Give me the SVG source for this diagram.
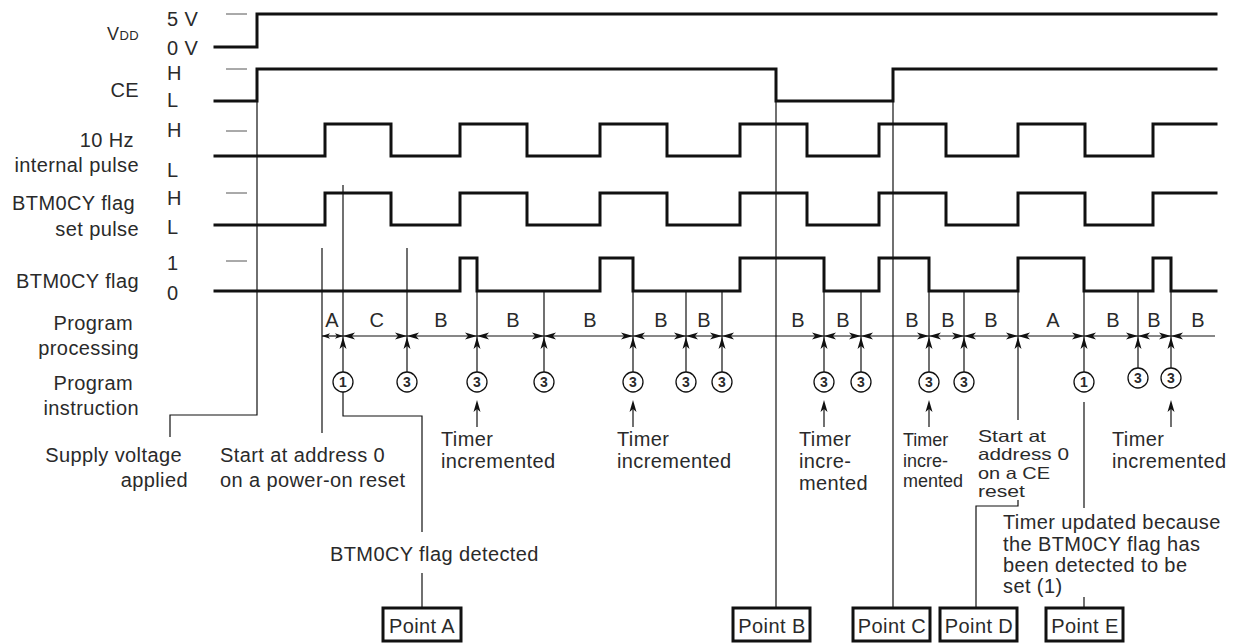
<svg xmlns="http://www.w3.org/2000/svg" width="1245" height="644" viewBox="0 0 1245 644">
<style>
text{font-family:"Liberation Sans",Arial,sans-serif;font-size:20px;letter-spacing:0.4px;fill:#2a2a2a}
.e{text-anchor:end}
.m{text-anchor:middle}
.wave{fill:none;stroke:#111;stroke-width:3;stroke-linejoin:miter;stroke-linecap:square}
.thin{fill:none;stroke:#111;stroke-width:1.2}
.tick{stroke:#555;stroke-width:1}
.dim{stroke:#111;stroke-width:1.2;fill:none}
.circ{fill:#fff;stroke:#111;stroke-width:1.3}
.cn{font-size:14px;font-weight:bold;letter-spacing:0;text-anchor:middle}
.box{fill:#fff;stroke:#111;stroke-width:3}
.sm{font-size:18px;letter-spacing:0}
.tight{font-size:16.5px;letter-spacing:0}
</style>
<defs>
<marker id="ah" viewBox="0 0 12 8" refX="12" refY="4" markerWidth="12" markerHeight="8" markerUnits="userSpaceOnUse" orient="auto-start-reverse">
<path d="M0,0.5 L12,4 L0,7.5 L3,4 Z" fill="#111"/>
</marker>
<marker id="ahs" viewBox="0 0 8 6" refX="8" refY="3" markerWidth="8" markerHeight="6" markerUnits="userSpaceOnUse" orient="auto-start-reverse">
<path d="M0,0.3 L8,3 L0,5.7 L2,3 Z" fill="#111"/>
</marker>
<path id="up" d="M0,0 L3.5,12 L0,9 L-3.5,12 Z" fill="#111"/>
</defs>

<g id="signal-labels">
<text x="139" y="40" class="e"><tspan font-size="18">V</tspan><tspan font-size="13">DD</tspan></text>
<text x="139" y="97" class="e">CE</text>
<text x="134" y="147" class="e">10 Hz</text>
<text x="139" y="172" class="e">internal pulse</text>
<text x="135" y="210" class="e">BTM0CY flag</text>
<text x="139" y="236" class="e">set pulse</text>
<text x="139" y="288" class="e">BTM0CY flag</text>
<text x="133" y="330" class="e">Program</text>
<text x="139" y="355" class="e">processing</text>
<text x="133" y="390" class="e">Program</text>
<text x="139" y="415" class="e">instruction</text>
</g>

<g id="level-labels">
<text x="167" y="26">5 V</text>
<text x="167" y="55">0 V</text>
<text x="167" y="80">H</text>
<text x="167" y="107">L</text>
<text x="167" y="137">H</text>
<text x="167" y="177">L</text>
<text x="167" y="205">H</text>
<text x="167" y="234">L</text>
<text x="167" y="270">1</text>
<text x="167" y="300">0</text>
<line class="tick" x1="226" y1="14" x2="247" y2="14"/>
<line class="tick" x1="226" y1="69" x2="247" y2="69"/>
<line class="tick" x1="226" y1="131" x2="247" y2="131"/>
<line class="tick" x1="226" y1="193" x2="247" y2="193"/>
<line class="tick" x1="226" y1="261" x2="247" y2="261"/>
</g>

<g id="waveforms">
<path id="vdd" class="wave" d="M215,47 H257 V14 H1216"/>
<path id="ce" class="wave" d="M215,101 H257 V69 H776 V101 H893 V69 H1216"/>
<path id="pulse10hz" class="wave" d="M215,156 H325 V124 H391 V156 H460 V124 H527 V156 H600 V124 H667 V156 H740 V124 H807 V156 H879 V124 H946 V156 H1018 V124 H1085 V156 H1153 V124 H1216"/>
<path id="setpulse" class="wave" d="M215,225 H325 V193 H391 V225 H460 V193 H527 V225 H600 V193 H667 V225 H740 V193 H807 V225 H879 V193 H946 V225 H1018 V193 H1085 V225 H1153 V193 H1216"/>
<path id="flag" class="wave" d="M215,291 H460 V258 H477 V291 H600 V258 H633 V291 H740 V258 H824 V291 H879 V258 H929 V291 H1018 V258 H1084 V291 H1153 V258 H1171 V291 H1216"/>
</g>

<g id="connectors">
<path class="thin" d="M257,101 V415 H170 V437"/>
<path class="thin" d="M322,248 V433"/>
<path class="thin" d="M343,185 V372"/>
<path class="thin" d="M343,392 V416 H422 V532"/>
<path class="thin" d="M422,573 V608"/>
<path class="thin" d="M407,248 V372"/>
<path class="thin" d="M477,291 V372"/>
<path class="thin" d="M544,291 V372"/>
<path class="thin" d="M633,291 V372"/>
<path class="thin" d="M686,291 V372"/>
<path class="thin" d="M722,291 V372"/>
<path class="thin" d="M776,101 V608"/>
<path class="thin" d="M824,291 V372"/>
<path class="thin" d="M861,291 V372"/>
<path class="thin" d="M893,101 V608"/>
<path class="thin" d="M929,291 V372"/>
<path class="thin" d="M964,291 V372"/>
<path class="thin" d="M1018,291 V420"/>
<path class="thin" d="M1018,500 V506 H976 V608"/>
<path class="thin" d="M1084,291 V372"/>
<path class="thin" d="M1084,402 V508"/>
<path class="thin" d="M1084,597 V608"/>
<path class="thin" d="M1138,291 V368"/>
<path class="thin" d="M1171,291 V368"/>
<path class="thin" d="M477,427 V408"/>
<path class="thin" d="M633,427 V408"/>
<path class="thin" d="M824,427 V408"/>
<path class="thin" d="M929,427 V408"/>
<path class="thin" d="M1171,427 V408"/>
<use href="#up" x="477" y="400"/>
<use href="#up" x="633" y="400"/>
<use href="#up" x="824" y="400"/>
<use href="#up" x="929" y="400"/>
<use href="#up" x="1171" y="400"/>
<use href="#up" x="343" y="337"/>
<use href="#up" x="407" y="337"/>
<use href="#up" x="477" y="337"/>
<use href="#up" x="544" y="337"/>
<use href="#up" x="633" y="337"/>
<use href="#up" x="686" y="337"/>
<use href="#up" x="722" y="337"/>
<use href="#up" x="824" y="337"/>
<use href="#up" x="861" y="337"/>
<use href="#up" x="929" y="337"/>
<use href="#up" x="964" y="337"/>
<use href="#up" x="1018" y="337"/>
<use href="#up" x="1084" y="337"/>
<use href="#up" x="1138" y="337"/>
<use href="#up" x="1171" y="337"/>
<line class="dim" x1="322" y1="336" x2="343" y2="336" marker-start="url(#ahs)" marker-end="url(#ahs)"/>
<line class="dim" x1="343" y1="336" x2="407" y2="336" marker-start="url(#ah)" marker-end="url(#ah)"/>
<line class="dim" x1="407" y1="336" x2="477" y2="336" marker-start="url(#ah)" marker-end="url(#ah)"/>
<line class="dim" x1="477" y1="336" x2="544" y2="336" marker-start="url(#ah)" marker-end="url(#ah)"/>
<line class="dim" x1="544" y1="336" x2="633" y2="336" marker-start="url(#ah)" marker-end="url(#ah)"/>
<line class="dim" x1="633" y1="336" x2="686" y2="336" marker-start="url(#ah)" marker-end="url(#ah)"/>
<line class="dim" x1="686" y1="336" x2="722" y2="336" marker-start="url(#ah)" marker-end="url(#ah)"/>
<line class="dim" x1="722" y1="336" x2="824" y2="336" marker-start="url(#ah)" marker-end="url(#ah)"/>
<line class="dim" x1="824" y1="336" x2="861" y2="336" marker-start="url(#ah)" marker-end="url(#ah)"/>
<line class="dim" x1="861" y1="336" x2="929" y2="336" marker-start="url(#ah)" marker-end="url(#ah)"/>
<line class="dim" x1="929" y1="336" x2="964" y2="336" marker-start="url(#ah)" marker-end="url(#ah)"/>
<line class="dim" x1="964" y1="336" x2="1018" y2="336" marker-start="url(#ah)" marker-end="url(#ah)"/>
<line class="dim" x1="1018" y1="336" x2="1084" y2="336" marker-start="url(#ah)" marker-end="url(#ah)"/>
<line class="dim" x1="1084" y1="336" x2="1138" y2="336" marker-start="url(#ah)" marker-end="url(#ah)"/>
<line class="dim" x1="1138" y1="336" x2="1171" y2="336" marker-start="url(#ah)" marker-end="url(#ah)"/>
<line class="dim" x1="1171" y1="336" x2="1215" y2="336" marker-start="url(#ah)"/>
</g>

<g id="processing-labels">
<text x="332" y="327" class="m">A</text>
<text x="377" y="327" class="m">C</text>
<text x="441" y="327" class="m">B</text>
<text x="513" y="327" class="m">B</text>
<text x="590" y="327" class="m">B</text>
<text x="661" y="327" class="m">B</text>
<text x="704" y="327" class="m">B</text>
<text x="798" y="327" class="m">B</text>
<text x="843" y="327" class="m">B</text>
<text x="912" y="327" class="m">B</text>
<text x="948" y="327" class="m">B</text>
<text x="991" y="327" class="m">B</text>
<text x="1053" y="327" class="m">A</text>
<text x="1113" y="327" class="m">B</text>
<text x="1154" y="327" class="m">B</text>
<text x="1198" y="327" class="m">B</text>
</g>

<g id="instructions">
<g id="i1"><circle class="circ" cx="343" cy="382" r="10"/><text class="cn" x="343" y="387">1</text></g>
<g id="i2"><circle class="circ" cx="407" cy="382" r="10"/><text class="cn" x="407" y="387">3</text></g>
<g id="i3"><circle class="circ" cx="477" cy="382" r="10"/><text class="cn" x="477" y="387">3</text></g>
<g id="i4"><circle class="circ" cx="544" cy="382" r="10"/><text class="cn" x="544" y="387">3</text></g>
<g id="i5"><circle class="circ" cx="633" cy="382" r="10"/><text class="cn" x="633" y="387">3</text></g>
<g id="i6"><circle class="circ" cx="686" cy="382" r="10"/><text class="cn" x="686" y="387">3</text></g>
<g id="i7"><circle class="circ" cx="722" cy="382" r="10"/><text class="cn" x="722" y="387">3</text></g>
<g id="i8"><circle class="circ" cx="824" cy="382" r="10"/><text class="cn" x="824" y="387">3</text></g>
<g id="i9"><circle class="circ" cx="861" cy="382" r="10"/><text class="cn" x="861" y="387">3</text></g>
<g id="i10"><circle class="circ" cx="929" cy="382" r="10"/><text class="cn" x="929" y="387">3</text></g>
<g id="i11"><circle class="circ" cx="964" cy="382" r="10"/><text class="cn" x="964" y="387">3</text></g>
<g id="i12"><circle class="circ" cx="1084" cy="382" r="10"/><text class="cn" x="1084" y="387">1</text></g>
<g id="i13"><circle class="circ" cx="1138" cy="378" r="10"/><text class="cn" x="1138" y="383">3</text></g>
<g id="i14"><circle class="circ" cx="1171" cy="378" r="10"/><text class="cn" x="1171" y="383">3</text></g>
</g>

<g id="annotations">
<text x="182" y="462" class="e">Supply voltage</text>
<text x="188" y="487" class="e">applied</text>
<text x="220" y="462">Start at address 0</text>
<text x="220" y="487">on a power-on reset</text>
<text x="330" y="561">BTM0CY flag detected</text>
<text x="441" y="446">Timer</text>
<text x="441" y="468">incremented</text>
<text x="617" y="446">Timer</text>
<text x="617" y="468">incremented</text>
<text x="799" y="446">Timer</text>
<text x="799" y="468">incre-</text>
<text x="799" y="490">mented</text>
<text x="903" y="446" class="sm">Timer</text>
<text x="903" y="467" class="sm">incre-</text>
<text x="903" y="487" class="sm">mented</text>
<text x="978" y="442" class="tight" textLength="68" lengthAdjust="spacingAndGlyphs">Start at</text>
<text x="978" y="460" class="tight" textLength="91" lengthAdjust="spacingAndGlyphs">address 0</text>
<text x="978" y="479" class="tight" textLength="72" lengthAdjust="spacingAndGlyphs">on a CE</text>
<text x="978" y="497" class="tight" textLength="47" lengthAdjust="spacingAndGlyphs">reset</text>
<text x="1112" y="446">Timer</text>
<text x="1112" y="468">incremented</text>
<text x="1003" y="529">Timer updated because</text>
<text x="1003" y="551">the BTM0CY flag has</text>
<text x="1003" y="572">been detected to be</text>
<text x="1003" y="593">set (1)</text>
</g>

<g id="pointA"><rect class="box" x="383" y="608" width="78" height="33"/><text x="422" y="633" class="m">Point A</text></g>
<g id="pointB"><rect class="box" x="733" y="608" width="77" height="33"/><text x="772" y="633" class="m">Point B</text></g>
<g id="pointC"><rect class="box" x="853" y="608" width="77" height="33"/><text x="892" y="633" class="m">Point C</text></g>
<g id="pointD"><rect class="box" x="940" y="608" width="77" height="33"/><text x="979" y="633" class="m">Point D</text></g>
<g id="pointE"><rect class="box" x="1046" y="608" width="77" height="33"/><text x="1085" y="633" class="m">Point E</text></g>
</svg>
